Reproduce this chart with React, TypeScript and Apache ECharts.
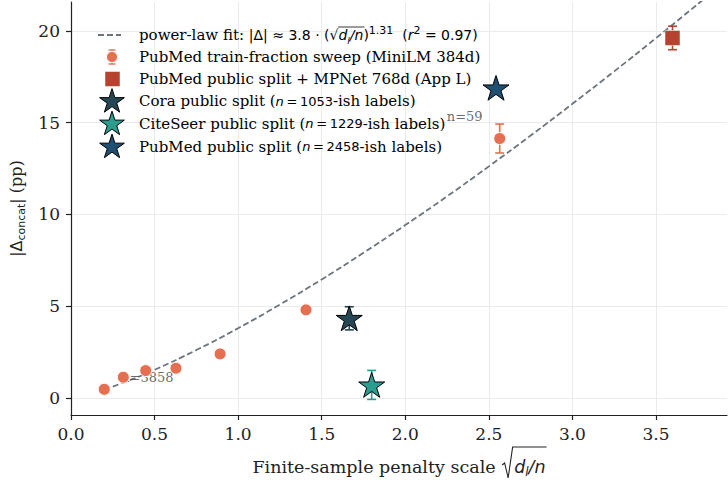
import React, { useEffect, useRef } from "react";
import * as echarts from "echarts";

// ---------------- data ----------------
const xTicks = [0, 0.5, 1.0, 1.5, 2.0, 2.5, 3.0, 3.5];
const yTicks = [0, 5, 10, 15, 20];

const sweepX = [0.199, 0.313, 0.447, 0.628, 0.892, 1.406, 2.565];
const sweepY = [0.47, 1.13, 1.49, 1.62, 2.4, 4.8, 14.14];
const sweepErr = [0.05, 0.06, 0.08, 0.08, 0.1, 0.12, 0.79];

const mpnetX = [3.599];
const mpnetY = [19.62];
const mpnetErr = [0.64];

const coraX = [1.665];
const coraY = [4.34];
const coraErr = [0.63];

const citeX = [1.799];
const citeY = [0.71];
const citeErr = [0.79];

const pubX = [2.543];
const pubY = [16.9];

const fitX = [0.2, 0.35, 0.5, 0.75, 1.0, 1.25, 1.5, 1.75, 2.0, 2.25, 2.5, 2.75, 3.0, 3.25, 3.5, 3.78];
const fitY = [0.46, 0.96, 1.53, 2.61, 3.8, 5.09, 6.46, 7.91, 9.42, 10.99, 12.62, 14.3, 16.03, 17.8, 19.61, 21.69];

const annX = [2.565, 0.313];
const annY = [14.14, 1.13];
const annText = ["n=59", "n=3858"];

// ---------------- styles ----------------
const annOffsets = [[-35, -22], [24, 0]];
const SERIF = "'DejaVu Serif', serif";
const SANS = "'DejaVu Sans', sans-serif";
const TXT = "#222";
const C_SWEEP = "#e76f51";
const C_MPNET = "#b5432f";
const C_CORA = "#264653";
const C_CITE = "#2a9d8f";
const C_PUB = "#1f4f73";
const C_FIT = "#6c757d";
const LFS = 15; // legend serif size
const M1 = 14; // math size in the fit row
const MFS = 13; // math size in star rows
const LSUB = 9;
const LSUP = 11;

const STAR =
  "path://M100,0 L122.45,69.1 L195.1,69.1 L136.3,111.8 L158.8,180.9 L100,138.2 L41.2,180.9 L63.7,111.8 L4.9,69.1 L77.55,69.1 Z";

function starPts(cx: number, cy: number, R: number) {
  const pts: number[][] = [];
  for (let k = 0; k < 10; k++) {
    const a = -Math.PI / 2 + (k * Math.PI) / 5;
    const r = k % 2 === 0 ? R : R * 0.382;
    pts.push([cx + r * Math.cos(a), cy + r * Math.sin(a) + R * 0.05]);
  }
  return pts;
}

function errSeries(xs: number[], ys: number[], es: number[], color: string) {
  return {
    type: "custom",
    z: 2,
    silent: true,
    data: xs.map((x, i) => [x, ys[i], es[i]]),
    renderItem: (_p: any, api: any) => {
      const x = api.value(0);
      const y = api.value(1);
      const e = api.value(2);
      const t = api.coord([x, y + e]);
      const b = api.coord([x, y - e]);
      const cap = 4.5;
      const st = { stroke: color, lineWidth: 1.6 };
      return {
        type: "group",
        children: [
          { type: "line", shape: { x1: t[0], y1: t[1], x2: b[0], y2: b[1] }, style: st },
          { type: "line", shape: { x1: t[0] - cap, y1: t[1], x2: t[0] + cap, y2: t[1] }, style: st },
          { type: "line", shape: { x1: b[0] - cap, y1: b[1], x2: b[0] + cap, y2: b[1] }, style: st },
        ],
      };
    },
  };
}

export default function App() {
  const ref = useRef<HTMLDivElement>(null);

  useEffect(() => {
    document.body.style.margin = "0";
    if (!ref.current) return;
    const chart = echarts.init(ref.current, undefined, { renderer: "svg" });

    const ctx = document.createElement("canvas").getContext("2d")!;
    const tw = (t: string, size: number, fam: string, italic = false) => {
      ctx.font = `${italic ? "italic " : ""}${size}px ${fam}`;
      return ctx.measureText(t).width;
    };

    // x-axis name geometry (radical + overline drawn as graphics)
    const gl = { left: 71, right: 1, top: 2, bottom: 67 };
    const plotMidX = gl.left + (728 - gl.left - gl.right) / 2;
    const XFS = 17.5;
    const RADW = 13;
    const wA = tw("Finite-sample penalty scale ", XFS, SERIF);
    const wD = tw("d", XFS, SANS, true);
    const wL = tw("l", 12, SANS, true);
    const wN = tw("/n", XFS, SANS, true);
    const xTotal = wA + RADW + wD + wL + wN;
    const xStart = plotMidX - xTotal / 2;
    const r0 = xStart + wA;
    const ovEnd = r0 + RADW + wD + wL + wN + 1;

    // legend
    const LX = 139;
    const rows = [35, 57, 79, 101, 123.5, 146.5];
    const IX = 112;

    const richBase: any = {
      a: { fontFamily: SERIF, fontSize: LFS, color: TXT, lineHeight: 20 },
      m: { fontFamily: SANS, fontSize: M1, color: TXT, lineHeight: 20 },
      i: { fontFamily: SANS, fontSize: M1, fontStyle: "italic", color: TXT, lineHeight: 20 },
      s: { fontFamily: SANS, fontSize: LSUB, fontStyle: "italic", color: TXT, lineHeight: 9, verticalAlign: "bottom" },
      p: { fontFamily: SANS, fontSize: LSUP, color: TXT, lineHeight: 10, verticalAlign: "top" },
      j: { fontFamily: SANS, fontSize: MFS, fontStyle: "italic", color: TXT, lineHeight: 20 },
      q: { fontFamily: SANS, fontSize: MFS, color: TXT, lineHeight: 20 },
    };
    const tokW = (t: string, k: string) => {
      switch (k) {
        case "a": return tw(t, LFS, SERIF);
        case "m": return tw(t, M1, SANS);
        case "i": return tw(t, M1, SANS, true);
        case "s": return tw(t, LSUB, SANS, true);
        case "p": return tw(t, LSUP, SANS);
        default: return 0;
      }
    };
    const line1: [string, string][] = [
      ["power-law fit: ", "a"], ["|Δ| ≈ 3.8 · (√", "m"],
      ["d", "i"], ["l", "s"], ["/n", "i"], [")", "m"], ["1.31", "p"], ["  (", "m"], ["r", "i"],
      ["2", "p"], [" = 0.97)", "m"],
    ];
    let acc = LX;
    let lov1 = 0, lov2 = 0;
    line1.forEach(([t, k], idx) => {
      acc += tokW(t, k);
      if (idx === 1) lov1 = acc - 0.5;
      if (idx === 4) lov2 = acc + 1;
    });
    const line1Str = line1.map(([t, k]) => `{${k}|${t}}`).join("");

    const TH = "\u2009";
    const legendTexts = [
      line1Str,
      "{a|PubMed train-fraction sweep (MiniLM 384d)}",
      "{a|PubMed public split + MPNet 768d (App L)}",
      `{a|Cora public split (}{j|n}{q|${TH}=${TH}1053}{a|-ish labels)}`,
      `{a|CiteSeer public split (}{j|n}{q|${TH}=${TH}1229}{a|-ish labels)}`,
      `{a|PubMed public split (}{j|n}{q|${TH}=${TH}2458}{a|-ish labels)}`,
    ];

    const graphic: any[] = [];
    legendTexts.forEach((t, k) => {
      graphic.push({
        type: "text",
        x: LX,
        y: rows[k],
        z: 10,
        style: { text: t, rich: richBase, verticalAlign: "middle", align: "left" },
      });
    });
    // legend icons
    graphic.push({
      type: "line",
      z: 10,
      shape: { x1: 98, y1: rows[0], x2: 121, y2: rows[0] },
      style: { stroke: C_FIT, lineWidth: 1.8, lineDash: [6, 3] },
    });
    graphic.push({
      type: "line",
      z: 10,
      shape: { x1: lov1, y1: rows[0] - 8, x2: lov2, y2: rows[0] - 8 },
      style: { stroke: TXT, lineWidth: 0.9 },
    });
    const ey1 = rows[1] - 7, ey2 = rows[1] + 7;
    [
      { x1: IX, y1: ey1, x2: IX, y2: ey2 },
      { x1: IX - 3.5, y1: ey1, x2: IX + 3.5, y2: ey1 },
      { x1: IX - 3.5, y1: ey2, x2: IX + 3.5, y2: ey2 },
    ].forEach((s) =>
      graphic.push({ type: "line", z: 10, shape: s, style: { stroke: C_SWEEP, lineWidth: 1.4 } })
    );
    graphic.push({
      type: "circle",
      z: 11,
      shape: { cx: IX, cy: rows[1], r: 5.5 },
      style: { fill: C_SWEEP, stroke: "#fff", lineWidth: 1 },
    });
    graphic.push({
      type: "rect",
      z: 11,
      shape: { x: IX - 7, y: rows[2] - 7.5, width: 15, height: 15 },
      style: { fill: C_MPNET, stroke: "#fff", lineWidth: 0.5 },
    });
    [C_CORA, C_CITE, C_PUB].forEach((c, k) => {
      graphic.push({
        type: "polygon",
        z: 11,
        shape: { points: starPts(IX, rows[3 + k], 13) },
        style: { fill: c, stroke: "#000", lineWidth: 1 },
      });
    });
    // radical sign + overline for x-axis name
    graphic.push({
      type: "polyline",
      z: 10,
      shape: {
        points: [
          [r0 + 1, 465],
          [r0 + 3.5, 463],
          [r0 + 7, 478],
          [r0 + 11.5, 447],
          [ovEnd, 447],
        ],
      },
      style: { stroke: TXT, lineWidth: 1.1, fill: null },
    });

    const axisCommon = {
      axisLine: { show: true, onZero: false, lineStyle: { color: TXT, width: 1.2 } },
      splitLine: { show: true, lineStyle: { color: "#ebebeb", width: 1 } },
    };

    const option: any = {
      animation: false,
      backgroundColor: "#fff",
      grid: { ...gl, containLabel: false, outerBoundsMode: "none" },
      xAxis: {
        type: "value",
        min: 0,
        max: 3.925,
        ...axisCommon,
        axisTick: { show: true, inside: false, length: 5, lineStyle: { color: TXT, width: 1.2 }, customValues: xTicks },
        axisLabel: {
          customValues: xTicks,
          formatter: (v: number) => v.toFixed(1),
          fontFamily: SERIF,
          fontSize: 17,
          color: TXT,
          margin: 10,
        },
        name: "{a|Finite-sample penalty scale }{sp| }{i|d}{s|l}{i|/n}",
        nameLocation: "middle",
        nameGap: 41,
        nameTextStyle: {
          rich: {
            a: { fontFamily: SERIF, fontSize: XFS, color: TXT, lineHeight: 22 },
            sp: { fontFamily: SANS, fontSize: XFS, width: RADW, lineHeight: 22 },
            i: { fontFamily: SANS, fontSize: XFS, fontStyle: "italic", color: TXT, lineHeight: 22 },
            s: { fontFamily: SANS, fontSize: 12, fontStyle: "italic", color: TXT, lineHeight: 12, verticalAlign: "bottom" },
          },
        },
      },
      yAxis: {
        type: "value",
        min: -0.93,
        max: 21.58,
        ...axisCommon,
        axisTick: { show: true, inside: false, length: 5, lineStyle: { color: TXT, width: 1.2 }, customValues: yTicks },
        axisLabel: {
          customValues: yTicks,
          formatter: (v: number) => String(Math.round(v)),
          fontFamily: SERIF,
          fontSize: 17,
          color: TXT,
          margin: 11,
        },
        name: "{m||Δ}{s|concat}{m||}{a| (pp)}",
        nameLocation: "middle",
        nameGap: 43,
        nameTextStyle: {
          rich: {
            a: { fontFamily: SERIF, fontSize: 16, color: TXT, lineHeight: 22 },
            m: { fontFamily: SANS, fontSize: 16, color: TXT, lineHeight: 22 },
            s: { fontFamily: SANS, fontSize: 11, color: TXT, lineHeight: 12, verticalAlign: "bottom" },
          },
        },
      },
      graphic,
      series: [
        {
          type: "line",
          name: "power-law fit",
          z: 1,
          data: fitX.map((x, i) => [x, fitY[i]]),
          smooth: true,
          symbol: "none",
          silent: true,
          lineStyle: { color: C_FIT, width: 1.8, type: [6, 3] },
        },
        {
          type: "scatter",
          name: "annotations",
          z: 1,
          silent: true,
          symbolSize: 1,
          itemStyle: { color: "transparent" },
          data: annX.map((x, i) => ({
            value: [x, annY[i]],
            name: annText[i],
            label: { offset: annOffsets[i] },
          })),
          label: {
            show: true,
            position: "inside",
            formatter: (p: any) => p.name,
            fontFamily: SERIF,
            fontSize: 13,
            color: "#444",
          },
        },
        errSeries(sweepX, sweepY, sweepErr, C_SWEEP),
        errSeries(mpnetX, mpnetY, mpnetErr, C_MPNET),
        errSeries(coraX, coraY, coraErr, C_CORA),
        errSeries(citeX, citeY, citeErr, C_CITE),
        {
          type: "scatter",
          name: "PubMed train-fraction sweep (MiniLM 384d)",
          z: 4,
          symbol: "circle",
          symbolSize: 12,
          itemStyle: { color: C_SWEEP, borderColor: "#fff", borderWidth: 1, opacity: 1 },
          data: sweepX.map((x, i) => [x, sweepY[i]]),
        },
        {
          type: "scatter",
          name: "PubMed public split + MPNet 768d (App L)",
          z: 4,
          symbol: "rect",
          symbolSize: 15,
          itemStyle: { color: C_MPNET, borderColor: "#fff", borderWidth: 0.5, opacity: 1 },
          data: mpnetX.map((x, i) => [x, mpnetY[i]]),
        },
        {
          type: "scatter",
          name: "Cora public split",
          z: 4,
          symbol: STAR,
          symbolKeepAspect: true,
          symbolSize: 26,
          itemStyle: { color: C_CORA, borderColor: "#000", borderWidth: 1, opacity: 1 },
          data: coraX.map((x, i) => [x, coraY[i]]),
        },
        {
          type: "scatter",
          name: "CiteSeer public split",
          z: 4,
          symbol: STAR,
          symbolKeepAspect: true,
          symbolSize: 26,
          itemStyle: { color: C_CITE, borderColor: "#000", borderWidth: 1, opacity: 1 },
          data: citeX.map((x, i) => [x, citeY[i]]),
        },
        {
          type: "scatter",
          name: "PubMed public split",
          z: 4,
          symbol: STAR,
          symbolKeepAspect: true,
          symbolSize: 26,
          itemStyle: { color: C_PUB, borderColor: "#000", borderWidth: 1, opacity: 1 },
          data: pubX.map((x, i) => [x, pubY[i]]),
        },
      ],
    };

    chart.setOption(option);
    return () => chart.dispose();
  }, []);

  return <div ref={ref} style={{ width: 728, height: 482 }} />;
}
